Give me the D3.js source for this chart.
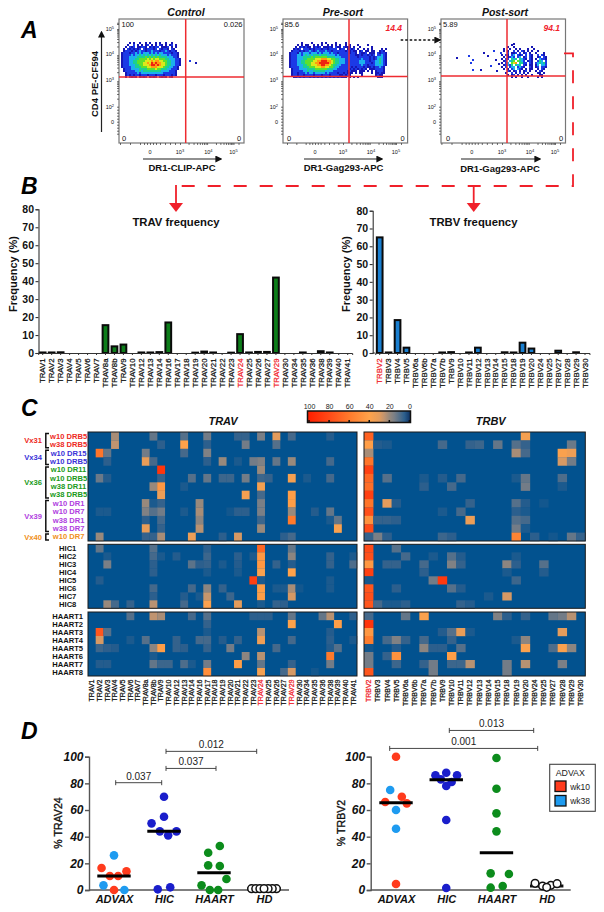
<!DOCTYPE html>
<html><head><meta charset="utf-8">
<script src="https://cdnjs.cloudflare.com/ajax/libs/d3/7.8.5/d3.min.js"></script>
<style>
html,body{margin:0;padding:0;background:#fff}
svg{display:block}
text{font-family:"Liberation Sans",Arial,sans-serif;fill:#111}
</style></head><body>
<svg id="c" width="604" height="912"></svg>
<script>
// ---------- DATA ----------
const flowTitles=["Control","Pre-sort","Post-sort"];
const flowXLabels=["DR1-CLIP-APC","DR1-Gag293-APC","DR1-Gag293-APC"];
const flowQuadUL=["100","85.6","5.89"];
const flowQuadUR=["0.026","14.4","94.1"];
const flowDensityControl=[
"000010100100101001010010010000",
"000100201010120101021010120100",
"001021201122101212201112010100",
"010212121202122212021221021000",
"012221212322122322212232122100",
"122212232323332323233222212210",
"122223233434343434343332322210",
"122233334444545454544443332210",
"122233344555565656655544333221",
"122233445555666767766554433221",
"122233445556676878776654433221",
"122233344556667887876654433221",
"122223344455566777666544332210",
"012223333444455556554443322210",
"012222233434444444443333222100",
"001222223233333333333222222100",
"001212122122212221222122212100",
"001021210121201212021210210000"];
const flowDensityPre=[
"000000100001000010100001000010000000000000000000000",
"000010101100101010010101010010100010000100000000000",
"000101212110121201112102110211101001000001000000000",
"001212022212122212212222012201212010010101000010100",
"012221212232123222322122222212121101201101100121000",
"122213233323332323332322122222122102112011102122100",
"122233234343444344433332322222222112122121202232100",
"122233344445455555544443332222222212222212123332100",
"122233344555566677766554433322222222322212123432100",
"122233445555667788877654433322222223332212233432100",
"122233445556677888887654433322222223332221233432100",
"122233344556667788776544332222222222322122233332100",
"122223344455566677665543322222212122212112122321000",
"012223333444455555544433222222121212121011122221000",
"012222233433444444333322222221211101110101012221000",
"012212223233233333232222122121110101100001011211000",
"012212212222122212221222211212100000100000012110000",
"001121212212121212121212121110101010000000001110000"];
const flowDensityPost=[
"000000000000000000000000",
"000001000000000000000000",
"000100100000000100000000",
"010010010100010010000000",
"010100201021010100100000",
"000201120201201001000100",
"102102302120202100202100",
"010123202301202100120210",
"102204340432102101032210",
"012034505432012100243020",
"102305670442202102343420",
"012324043402101101303320",
"102023302321002101202210",
"010102303210101100102100",
"000210120101201001021000",
"001002010201010000110100",
"000101201010100100011000",
"000001010010010000101000"];
const flowStraysControl=[[37,10,1],[34,9,2]];
const flowStraysPost=[[-22.5,7.5,1],[-16.5,6.5,2],[-15.5,10,2],[-14.5,13.5,2],[-10.5,13.5,1],[-7,6.5,1],[-4,4,2],[-3,8.5,1],[-0.5,5,2],[-1.5,10.5,1],[-14.5,8.5,2],[-9,5,1],[-5.5,11.5,2],[-2.5,14,1],[6,0.5,1]];

const travLabels=["TRAV1","TRAV2","TRAV3","TRAV4","TRAV5","TRAV6","TRAV7","TRAV8a","TRAV8b","TRAV9","TRAV10","TRAV12","TRAV13","TRAV14","TRAV16","TRAV17","TRAV18","TRAV19","TRAV20","TRAV21","TRAV22","TRAV23","TRAV24","TRAV25","TRAV26","TRAV27","TRAV29","TRAV30","TRAV34","TRAV35","TRAV36","TRAV38","TRAV39","TRAV40","TRAV41"];
const travFreq=[.3,.3,.4,0,0,0,0,15.5,3.7,4.7,0,.3,.3,.5,17,0,0,.2,.8,.3,0,.2,10.5,.3,.6,.6,42,0,0,.3,0,1,.3,0,0];
const trbvLabels=["TRBV2","TRBV3","TRBV4","TRBV5","TRBV6a","TRBV6b","TRBV7a","TRBV7b","TRBV9","TRBV10","TRBV11","TRBV12","TRBV13","TRBV14","TRBV15","TRBV18","TRBV19","TRBV20","TRBV24","TRBV25","TRBV27","TRBV28","TRBV29","TRBV30"];
const trbvFreq=[65,.3,18.5,3,0,0,0,.3,.5,0,.3,3,0,0,.4,.3,5.8,2.5,0,0,1.3,0,.4,0];
const redLabels=["TRAV24","TRAV29","TRBV2"];
const freqTicks=[0,10,20,30,40,50,60,70,80];

const vxRows=[["w10 DRB5","#ee2a24"],["w38 DRB5","#ee2a24"],["w10 DR15","#3a32d8"],["w10 DRB5","#3a32d8"],["w10 DR11","#1a9a20"],["w10 DRB5","#1a9a20"],["w38 DR11","#1a9a20"],["w38 DRB5","#1a9a20"],["w10 DR1","#b040e0"],["w10 DR7","#b040e0"],["w38 DR1","#b040e0"],["w38 DR7","#b040e0"],["w10 DR7","#f09020"]];
const hicRows=["HIC1","HIC2","HIC3","HIC4","HIC5","HIC6","HIC7","HIC8"];
const haartRows=["HAART1","HAART2","HAART3","HAART4","HAART5","HAART6","HAART7","HAART8"];
const vxGroups=[["Vx31","#ee2a24",0,1],["Vx34","#3a32d8",2,3],["Vx36","#1a9a20",4,7],["Vx39","#b040e0",8,11],["Vx40","#f09020",12,12]];
// each row: column index -> % of repertoire
const heatTravVx=[
{3:22,8:12,12:10,15:14,19:6,20:6,22:15,24:30,26:8,31:4},
{3:25,9:5,12:40,15:5,20:14,24:10},
{1:62,2:12,7:14,12:8,15:16},
{2:5,7:32,8:8,15:5,17:20,19:3,21:14,22:16,24:12,26:20,31:8},
{9:90,22:20},
{1:13,2:4,9:6,13:10,15:12,17:7,18:7,20:14,22:7,23:6,26:36,28:3,31:8},
{8:20,9:45,12:3,22:36},
{9:33,20:36,22:8,26:42},
{7:20,8:3,9:6,14:20,22:15,26:42},
{1:3,2:3,7:16,8:10,9:14,12:3,14:22,18:2,19:5,20:5,22:15,26:20,29:4,31:12},
{7:5,9:8,14:18,22:7,26:60,31:3,32:12},
{7:32,9:6,14:24,22:20,32:38},
{1:20,7:6,8:6,9:22,13:33,17:5,19:28,25:5,26:8}];
const heatTrbvVx=[
{0:70,17:36},
{0:42,1:4,2:3,8:8,11:6,12:7,14:12,16:10,17:6,22:13},
{0:22,16:22,17:8,21:38,22:34},
{0:62,21:28,22:14},
{0:85},
{0:68,2:10,6:3,8:4,10:8,16:3,17:12,21:9},
{0:65,6:5,9:8,17:14,21:3},
{0:85},
{0:62,2:30,3:4,11:6,16:10,17:4,19:2},
{0:78,8:3,10:8,16:5,17:3},
{0:48,1:6,2:6,3:5,11:33,16:10,17:8},
{0:80,16:14,17:3},
{0:6,1:15,2:5,8:7,9:5,16:55,18:5,20:2,22:12,23:6}];
const heatTravHic=[
{1:12,8:10,15:5,22:68,26:12},
{2:3,8:8,9:3,11:4,15:7,19:5,21:3,22:45,26:18,31:6,34:3},
{2:15,8:5,13:11,14:5,15:6,17:3,19:4,22:45,24:6,26:4,31:6,34:9},
{8:5,15:3,19:3,22:38,26:40},
{1:4,21:85,22:3,31:3},
{8:8,13:8,15:18,17:6,22:42,24:3,25:3,26:22,27:2,31:3},
{8:5,12:4,14:3,15:26,18:7,22:42,26:28},
{2:20,3:8,5:6,8:24,12:8,15:38,19:30,22:3,24:6,25:5}];
const heatTrbvHic=[
{0:80,3:10},
{0:78,4:8,7:3,9:10,10:4,16:3},
{0:45,2:6,3:6,6:8,9:16,10:6,15:18,16:5,19:10},
{0:85,6:5,15:3,19:4},
{0:2,7:14,8:88,16:7},
{0:75,3:5,9:10,10:4},
{0:78,13:3,15:28},
{0:75,1:8,2:3,3:3,4:5,10:6,11:4}];
const heatTravHaart=[
{5:10,8:25,9:22,13:8,15:10,21:5,22:5,23:5,26:12,30:12,31:24,34:5},
{15:6,26:40,32:42},
{1:75,2:10,15:3,22:24,31:4},
{1:28,5:3,7:10,11:6,14:8,15:8,17:4,19:6,22:34,26:8,31:5,34:3},
{1:7,2:5,3:4,8:18,9:42,11:6,12:5,15:6,18:14,24:8,31:4,32:10},
{8:3,20:18,22:24,31:60},
{1:4,2:4,8:12,9:7,10:7,12:9,13:3,15:14,19:42,22:12,26:6,31:14},
{15:50,22:36,25:8,26:28,29:2}];
const heatTrbvHaart=[
{0:8,4:12,6:38,14:16,15:5,17:6,20:12,21:14,22:24},
{0:90},
{0:45,8:4,9:10,10:32,11:3,21:30},
{0:58,2:8,3:16,4:6,6:8,9:6,16:3,17:18},
{0:2,3:4,6:18,7:5,8:5,10:10,17:38,20:9,21:38,22:18},
{0:14,2:6,3:48,9:42},
{0:14,3:7,6:6,7:14,9:7,10:7,11:24,15:14,17:24,21:15},
{0:75,7:14,15:14}];
const legendTicks=[100,80,60,40,20,0];

const dotGroups=["ADVAX","HIC","HAART","HD"];
const dotTicks=[0,20,40,60,80,100];
// [group, value, swarm slot, colour key]
const trav24Points=[
["ADVAX",26,0,"wk38"],["ADVAX",3.5,-1.27,"wk38"],["ADVAX",0,1.25,"wk38"],
["ADVAX",16.5,-1.5,"wk10"],["ADVAX",10.5,-.5,"wk10"],["ADVAX",10.5,.5,"wk10"],["ADVAX",14,1.5,"wk10"],["ADVAX",0,0,"wk10"],
["HIC",70,0,"HIC"],["HIC",55,0,"HIC"],["HIC",50,-1.5,"HIC"],["HIC",44,-.5,"HIC"],["HIC",44,1.5,"HIC"],["HIC",41,.5,"HIC"],["HIC",.5,-.75,"HIC"],["HIC",2,.75,"HIC"],
["HAART",33,.7,"HAART"],["HAART",28,-.7,"HAART"],["HAART",18.5,-.7,"HAART"],["HAART",18,.7,"HAART"],["HAART",3.5,-1.5,"HAART"],["HAART",8.25,1.5,"HAART"],["HAART",0,-.5,"HAART"],["HAART",0,.5,"HAART"],
["HD",1,-1.5,"HD"],["HD",1,1.5,"HD"],["HD",1,-1,"HD"],["HD",1,1,"HD"],["HD",1,-.5,"HD"],["HD",1,.5,"HD"],["HD",1,0,"HD"]];
const trbv2Points=[
["ADVAX",100,0,"wk10"],["ADVAX",70,.7,"wk10"],["ADVAX",66,-1.3,"wk10"],["ADVAX",65,1.3,"wk10"],["ADVAX",4.5,0,"wk10"],
["ADVAX",75,-.7,"wk38"],["ADVAX",60,0,"wk38"],["ADVAX",46,0,"wk38"],
["HIC",86,-1.3,"HIC"],["HIC",88,0,"HIC"],["HIC",86,1.3,"HIC"],["HIC",83,-.65,"HIC"],["HIC",81,.65,"HIC"],["HIC",78,0,"HIC"],["HIC",52.5,0,"HIC"],["HIC",1.5,0,"HIC"],
["HAART",99,0,"HAART"],["HAART",76,0,"HAART"],["HAART",57.5,0,"HAART"],["HAART",44,0,"HAART"],["HAART",12.5,-.7,"HAART"],["HAART",12,1.5,"HAART"],["HAART",1.75,-.7,"HAART"],["HAART",3,.75,"HAART"],
["HD",5,-1.4,"HD"],["HD",3,-.5,"HD"],["HD",3.5,.5,"HD"],["HD",4.75,1.25,"HD"],["HD",2,0,"HD"]];
const trav24Medians=[["ADVAX",10.5],["HIC",44],["HAART",13],["HD",1]];
const trbv2Medians=[["ADVAX",65.5],["HIC",82.75],["HAART",28],["HD",3]];
const trav24Brackets=[["0.037",115.7,161.7,80.5],["0.037",166,216,91.2],["0.012",166,256.7,104]];
const trbv2Brackets=[["0.013",449.3,533.7,119.7],["0.001",389.7,537.7,106.2]];
const legendItems=["wk10","wk38"];

// ---------- HELPERS ----------
const svg=d3.select("#c");
const RED="#f0202a";
const sans=(s,size,weight,style)=>s.style("font-size",size+"px").style("font-weight",weight||"normal").style("font-style",style||"normal");
const thicken=(s,w)=>s.style("stroke",function(){return this.style.fill||"#111";}).style("stroke-width",w);
const defs=svg.append("defs");
defs.append("marker").attr("id","blk").attr("viewBox","0 0 10 10").attr("refX",8).attr("refY",5).attr("markerWidth",7).attr("markerHeight",7).attr("markerUnits","userSpaceOnUse").attr("orient","auto").append("path").attr("d","M0,0L10,5L0,10z").attr("fill","#111");
function panelLetter(t,x,y){sans(svg.append("text").attr("x",x).attr("y",y).text(t),23,"bold","italic").style("fill","#000");}
panelLetter("A",21,38);panelLetter("B",21,194);panelLetter("C",21,416);panelLetter("D",21,739);

// ---------- PANEL A ----------
const densityColor=["none","#1616b4","#1c3ae6","#1cb0ee","#1cd090","#5ee02c","#dce81c","#ff9a10","#ee2210"];
const flowPanels=[
 {l:119,r:244,v:185.7,h:77,xt:[150,180,208.4,233.5],grid:flowDensityControl,gx:121,stray:flowStraysControl,arrow:[143,221],ly:168,lab:182,ttl:186,ul:121.5,zl:122,zr:239},
 {l:283,r:407.6,v:349,h:76.5,xt:[315,343,371,396],grid:flowDensityPre,gx:289,stray:[],arrow:[304,382],ly:168,lab:343.5,ttl:343,ul:284.5,zl:287,zr:402.6},
 {l:441,r:565.5,v:507,h:76,xt:[471.7,502,530,555],grid:flowDensityPost,gx:501,stray:flowStraysPost,arrow:[461,540],ly:169,lab:500,ttl:505,ul:443,zl:446,zr:561}];
const minor=[2,3,4,5,6,7,8,9].map(k=>Math.log10(k));
flowPanels.forEach((p,i)=>{
 const g=svg.append("g");
 const top=19,bot=143,cell=2,gy=42;
 const gridX=d3.scaleLinear().domain([0,1]).range([p.gx,p.gx+cell]);
 const gridY=d3.scaleLinear().domain([0,1]).range([gy,gy+cell]);
 const cells=[];
 p.grid.forEach((row,r)=>row.split("").forEach((ch,c)=>{if(+ch>0)cells.push([c,r,+ch]);}));
 p.stray.forEach(d=>cells.push(d));
 g.selectAll("rect.d").data(cells).join("rect").attr("class","d")
  .attr("x",d=>gridX(d[0])).attr("y",d=>gridY(d[1])).attr("width",cell).attr("height",cell)
  .attr("fill",d=>densityColor[d[2]]);
 g.append("rect").attr("x",p.l).attr("y",top).attr("width",p.r-p.l).attr("height",bot-top).attr("fill","none").attr("stroke","#777").attr("stroke-width",1.2);
 g.append("line").attr("x1",p.v).attr("x2",p.v).attr("y1",top).attr("y2",bot).attr("stroke","#ee2b30").attr("stroke-width",1.5);
 g.append("line").attr("x1",p.l).attr("x2",p.r).attr("y1",p.h).attr("y2",p.h).attr("stroke","#ee2b30").attr("stroke-width",1.5);
 // axes
 const fy=d3.scaleLinear().domain([0,2,3,4,5]).range([121.7,106.7,80,54,29]);
 const fx=d3.scaleLinear().domain([0,3,4,5]).range(p.xt);
 const yTicks=[];[2,3,4].forEach(d=>minor.forEach(m=>yTicks.push(d+m)));yTicks.push(2,5,0,5.2,5.25);[.4,.8,1.2,1.6,-.4,-.8,-1.2,-1.6].forEach(v=>yTicks.push(v));
 const ya=g.append("g").attr("transform",`translate(${p.l},0)`).call(d3.axisLeft(fy).tickValues(yTicks).tickSize(2).tickFormat(""));
 ya.select(".domain").remove();ya.selectAll("line").attr("stroke","#333").attr("stroke-width",.7);
 const xTicks=[];[3,4].forEach(d=>minor.forEach(m=>xTicks.push(d+m)));[0,3,.3,.6,-.3,-.6,-1,1,1.5,2,2.5,-2,-3,5,5.2].forEach(v=>xTicks.push(v));
 const xa=g.append("g").attr("transform",`translate(0,${bot})`).call(d3.axisBottom(fx).tickValues(xTicks).tickSize(2).tickFormat(""));
 xa.select(".domain").remove();xa.selectAll("line").attr("stroke","#333").attr("stroke-width",.7);
 function pow(sel,e){sel.append("tspan").text("10");sel.append("tspan").attr("dy",-2).style("font-size","4px").text(e);}
 [[5,"5"],[4,"4"],[3,"3"],[2,"2"]].forEach(([v,e])=>{
  const t=sans(g.append("text").attr("x",p.l-5).attr("y",fy(v)+2).attr("text-anchor","end"),5.5);pow(t,e);});
 sans(g.append("text").attr("x",p.l-5).attr("y",fy(0)+2).attr("text-anchor","end").text("0"),5.5);
 sans(g.append("text").attr("x",p.xt[0]).attr("y",154).attr("text-anchor","middle").text("0"),5.5);
 [[3,"3"],[4,"4"],[5,"5"]].forEach(([v,e])=>{
  const t=sans(g.append("text").attr("x",fx(v)).attr("y",154).attr("text-anchor","middle"),5.5);pow(t,e);});
 // quadrant labels
 sans(g.append("text").attr("x",p.ul).attr("y",27).text(flowQuadUL[i]),7.5);
 if(i==0) sans(g.append("text").attr("x",242.5).attr("y",27).attr("text-anchor","end").text(flowQuadUR[i]),7.5);
 else sans(g.append("text").attr("x",p.r-5.5).attr("y",31).attr("text-anchor","end").text(flowQuadUR[i]).style("fill",RED),8.5,"bold","italic");
 sans(g.append("text").attr("x",p.zl).attr("y",141).text("0"),7.5);
 sans(g.append("text").attr("x",p.zr).attr("y",141).attr("text-anchor","middle").text("0"),7.5);
 sans(g.append("text").attr("x",p.ttl).attr("y",16).attr("text-anchor","middle").text(flowTitles[i]),10.5,"bold","italic");
 g.append("line").attr("x1",p.arrow[0]).attr("x2",p.arrow[1]).attr("y1",159).attr("y2",159).attr("stroke","#222").attr("stroke-width",1.2).attr("marker-end","url(#blk)");
 sans(g.append("text").attr("x",p.lab).attr("y",p.ly+3).attr("text-anchor","middle").text(flowXLabels[i]),9.5,"bold");
});
svg.append("line").attr("x1",101.5).attr("x2",101.5).attr("y1",132).attr("y2",32).attr("stroke","#222").attr("stroke-width",1.2).attr("marker-end","url(#blk)");
sans(svg.append("text").attr("transform","translate(97.5,84) rotate(-90)").attr("text-anchor","middle").text("CD4  PE-CF594"),9.5,"bold");
svg.append("line").attr("x1",400.7).attr("x2",440).attr("y1",40).attr("y2",40).attr("stroke","#111").attr("stroke-width",1.4).attr("stroke-dasharray","2.5,2").attr("marker-end","url(#blk)");
// dashed link
svg.append("path").attr("d","M564,53.3H573V186H176").attr("fill","none").attr("stroke",RED).attr("stroke-width",1.8).attr("stroke-dasharray","13,13");
[176,473.7].forEach(x=>{
 svg.append("line").attr("x1",x).attr("x2",x).attr("y1",185).attr("y2",205).attr("stroke",RED).attr("stroke-width",1.8);
 svg.append("path").attr("d",`M${x-7},203L${x+7},203L${x},212z`).attr("fill",RED);
});

// ---------- PANEL B ----------
function barPanel(labels,vals,color,rng,axX,y80,ylabX,title,titleX){
 const g=svg.append("g");
 const x=d3.scaleBand().domain(labels).range(rng).paddingInner(.36).paddingOuter(.18);
 const y=d3.scaleLinear().domain([0,80]).range([353,y80]);
 const data=labels.map((l,i)=>[l,vals[i]]).filter(d=>d[1]>0);
 g.selectAll("rect").data(data).join("rect").attr("x",d=>x(d[0])).attr("width",x.bandwidth())
  .attr("y",d=>y(d[1])).attr("height",d=>353-y(d[1])).attr("fill",color).attr("stroke","#0a0a0a").attr("stroke-width",2);
 const ya=g.append("g").attr("transform",`translate(${axX},0)`).call(d3.axisLeft(y).tickValues(freqTicks).tickSize(3).tickPadding(1.5));
 ya.selectAll("path,line").attr("stroke","#333").attr("stroke-width",1.1);
 sans(ya.selectAll("text").style("fill","#111"),10.5,"bold");
 const xa=g.append("g").attr("transform","translate(0,353)").call(d3.axisBottom(x).tickSize(2));
 xa.selectAll("path,line").attr("stroke","#333").attr("stroke-width",1);
 g.append("line").attr("x1",axX).attr("x2",rng[0]).attr("y1",353).attr("y2",353).attr("stroke","#333");
 const tl=sans(xa.selectAll("text").attr("transform","rotate(-90)").attr("text-anchor","end").attr("y",0).attr("x",-5.5).attr("dy",".35em").style("fill",d=>redLabels.includes(d)?RED:"#111"),7.8,"normal");
 thicken(tl,.25);
 sans(g.append("text").attr("transform",`translate(${ylabX},274) rotate(-90)`).attr("text-anchor","middle").text("Frequency (%)"),11,"bold");
 sans(g.append("text").attr("x",titleX).attr("y",226).attr("text-anchor","middle").text(title),11.3,"bold");
}
barPanel(travLabels,travFreq,"#0d7d1a",[42.7-4.485,347.7+4.485],38.5,209.3,16.5,"TRAV frequency",176);
barPanel(trbvLabels,trbvFreq,"#1a7fd0",[379.7-4.465,585+4.465],372.7,210.7,350,"TRBV frequency",473.5);

// ---------- PANEL C ----------
const heatDomain=[0,5,10,15,20,25,30,40,60,80,100];
const heatRange=["#02528f","#2c5f8d","#55708a","#7a7f86","#98897c","#c09470","#e49c5c","#ffa24a","#ff7a2c","#ff4a18","#ff2000"];
const heatColor=d3.scaleLinear().domain(heatDomain).range(heatRange);
function heat(cols,rows,top,bot,rng){
 const g=svg.append("g");
 const x=d3.scaleBand().domain(d3.range(cols)).range(rng);
 const y=d3.scaleBand().domain(d3.range(rows.length)).range([top,bot]);
 g.append("rect").attr("x",rng[0]).attr("y",top).attr("width",rng[1]-rng[0]).attr("height",bot-top).attr("fill",heatColor(0));
 const cells=[];rows.forEach((r,ri)=>Object.entries(r).forEach(([c,v])=>cells.push([+c,ri,v])));
 g.selectAll("rect.c").data(cells).join("rect").attr("class","c").attr("x",d=>x(d[0])).attr("y",d=>y(d[1])).attr("width",x.bandwidth()+.2).attr("height",y.bandwidth()+.2).attr("fill",d=>heatColor(d[2]));
 g.append("rect").attr("x",rng[0]).attr("y",top).attr("width",rng[1]-rng[0]).attr("height",bot-top).attr("fill","none").attr("stroke","#1a1a1a").attr("stroke-width",1);
}
const travRng=[88,357],trbvRng=[364,585.3];
heat(travLabels.length,heatTravVx,432,541,travRng);
heat(trbvLabels.length,heatTrbvVx,432,541,trbvRng);
heat(travLabels.length,heatTravHic,544.3,608.3,travRng);
heat(trbvLabels.length,heatTrbvHic,544.3,608.3,trbvRng);
heat(travLabels.length,heatTravHaart,612,676,travRng);
heat(trbvLabels.length,heatTrbvHaart,612,676,trbvRng);
function heatLabels(labels,rng){
 const x=d3.scaleBand().domain(labels).range(rng);
 const a=svg.append("g").attr("transform","translate(0,676)").call(d3.axisBottom(x).tickSize(0));
 a.select(".domain").remove();
 const tl=sans(a.selectAll("text").attr("transform","rotate(-90)").attr("text-anchor","end").attr("y",0).attr("x",-3.5).attr("dy",".35em").style("fill",d=>redLabels.includes(d)?RED:"#111"),7,"normal");
 thicken(tl,.25);
}
heatLabels(travLabels,travRng);heatLabels(trbvLabels,trbvRng);
sans(svg.append("text").attr("x",223).attr("y",425).attr("text-anchor","middle").text("TRAV"),11,"bold","italic");
sans(svg.append("text").attr("x",490.7).attr("y",425).attr("text-anchor","middle").text("TRBV"),11,"bold","italic");
// row labels
const vxY=d3.scaleBand().domain(d3.range(vxRows.length)).range([432,541]);
svg.selectAll("text.vr").data(vxRows).join("text").attr("class","vr").attr("x",68.6).attr("y",(d,i)=>vxY(i)+vxY.bandwidth()/2+2.6).attr("text-anchor","middle").text(d=>d[0]).style("fill",d=>d[1]).style("font-size","7.6px").style("font-weight","bold");
[[hicRows,544.3,608.3],[haartRows,612,676]].forEach(([rows,t,b])=>{
 const yy=d3.scaleBand().domain(rows).range([t,b]);
 svg.selectAll(null).data(rows).join("text").attr("x",67.7).attr("y",d=>yy(d)+yy.bandwidth()/2+2.6).attr("text-anchor","middle").text(d=>d).style("font-size","7.6px").style("font-weight","bold");
});
vxGroups.forEach(([name,col,a,b])=>{
 const t=vxY(a)+1.5,e=vxY(b)+vxY.bandwidth()-1;
 svg.append("path").attr("d",`M49,${t}H45.8V${e}H49`).attr("fill","none").attr("stroke","#111").attr("stroke-width",1.5);
 sans(svg.append("text").attr("x",33).attr("y",(t+e)/2+2.6).attr("text-anchor","middle").text(name).style("fill",col),7.6,"bold");
});
// colour bar
const lx=d3.scaleLinear().domain([100,0]).range([309,409.4]);
const grad=defs.append("linearGradient").attr("id","hg").attr("gradientUnits","userSpaceOnUse").attr("x1",lx(100)).attr("x2",lx(0)).attr("y1",0).attr("y2",0);
heatDomain.slice().reverse().forEach(v=>grad.append("stop").attr("offset",(100-v)/100).attr("stop-color",v==0?"#12386a":heatColor(v)));
svg.append("rect").attr("x",307.5).attr("y",411).attr("width",103).attr("height",11.5).attr("fill","url(#hg)").attr("stroke","#111").attr("stroke-width",1.5);
const la=svg.append("g").attr("transform","translate(0,411)").call(d3.axisTop(lx).tickValues(legendTicks).tickSize(0).tickPadding(2));
la.select(".domain").remove();sans(la.selectAll("text").style("fill","#222"),7,"normal");
svg.selectAll("line.lt").data(legendTicks).join("line").attr("class","lt").attr("x1",d=>lx(d)).attr("x2",d=>lx(d)).attr("y1",420).attr("y2",422).attr("stroke","#111").attr("stroke-width",1.5);

// ---------- PANEL D ----------
const dotColor={wk10:"#ff3b1d",wk38:"#1e9bf0",HIC:"#1a1ecb",HAART:"#0c8c1c",HD:"#fff"};
function dotPanel(pts,meds,brs,title,rng,axX,axEnd,ylabX){
 const g=svg.append("g");
 const x=d3.scalePoint().domain(dotGroups).range(rng);
 const y=d3.scaleLinear().domain([0,100]).range([890,756.7]);
 const ya=g.append("g").attr("transform",`translate(${axX},0)`).call(d3.axisLeft(y).tickValues(dotTicks).tickSize(4).tickPadding(1.5));
 ya.selectAll("path,line").attr("stroke","#555").attr("stroke-width",1.4);
 sans(ya.selectAll("text").style("fill","#111"),12,"bold","italic");
 const xa=g.append("g").attr("transform","translate(0,890)").call(d3.axisBottom(x).tickSize(0).tickPadding(5));
 xa.select(".domain").remove();
 sans(xa.selectAll("text").style("fill","#111"),11,"bold","italic");
 g.append("line").attr("x1",axX).attr("x2",axEnd).attr("y1",890).attr("y2",890).attr("stroke","#555").attr("stroke-width",1.4);
 const slot=8.3;
 const med=meds.filter(m=>m[0]=="HD");
 g.selectAll("line.mh").data(med).join("line").attr("class","mh").attr("x1",d=>x(d[0])-16.7).attr("x2",d=>x(d[0])+16.7).attr("y1",d=>y(d[1])).attr("y2",d=>y(d[1])).attr("stroke","#111").attr("stroke-width",3);
 g.selectAll("circle").data(pts).join("circle").attr("cx",d=>x(d[0])+d[2]*slot).attr("cy",d=>y(d[1])).attr("r",d=>d[3]=="HD"?3.8:4.3)
  .attr("fill",d=>dotColor[d[3]]).attr("stroke",d=>d[3]=="HD"?"#111":"none").attr("stroke-width",1.5);
 g.selectAll("line.m").data(meds.filter(m=>m[0]!="HD")).join("line").attr("class","m").attr("x1",d=>x(d[0])-16.7).attr("x2",d=>x(d[0])+16.7).attr("y1",d=>y(d[1])).attr("y2",d=>y(d[1])).attr("stroke","#000").attr("stroke-width",3);
 brs.forEach(([t,a,b,v])=>{
  const yy=y(v);
  g.append("path").attr("d",`M${a},${yy-2.5}V${yy+2.5}M${a},${yy}H${b}M${b},${yy-2.5}V${yy+2.5}`).attr("fill","none").attr("stroke","#333").attr("stroke-width",.9);
  sans(g.append("text").attr("x",(a+b)/2).attr("y",yy-3).attr("text-anchor","middle").text(t).style("fill","#222"),10);
 });
 thicken(sans(g.append("text").attr("transform",`translate(${ylabX},823) rotate(-90)`).attr("text-anchor","middle").text(title),10.6,"normal"),.35);
}
dotPanel(trav24Points,trav24Medians,trav24Brackets,"% TRAV24",[114,264],89,289,62);
dotPanel(trbv2Points,trbv2Medians,trbv2Brackets,"% TRBV2",[396,546.7],370.7,570.7,345);
// legend
svg.append("rect").attr("x",549.7).attr("y",764.3).attr("width",45.6).attr("height",47).attr("fill","#fff").attr("stroke","#444").attr("stroke-width",1.1);
sans(svg.append("text").attr("x",555.7).attr("y",776).text("ADVAX").style("fill","#222"),8.8);
const ly=d3.scaleBand().domain(legendItems).range([779.5,808.5]);
legendItems.forEach(k=>{
 svg.append("rect").attr("x",555).attr("y",ly(k)+1.5).attr("width",11).attr("height",10.5).attr("fill",dotColor[k]).attr("stroke","#111").attr("stroke-width",1.3);
 sans(svg.append("text").attr("x",570.2).attr("y",ly(k)+10).text(k).style("fill","#222"),8.5);
});
</script>
</body></html>
